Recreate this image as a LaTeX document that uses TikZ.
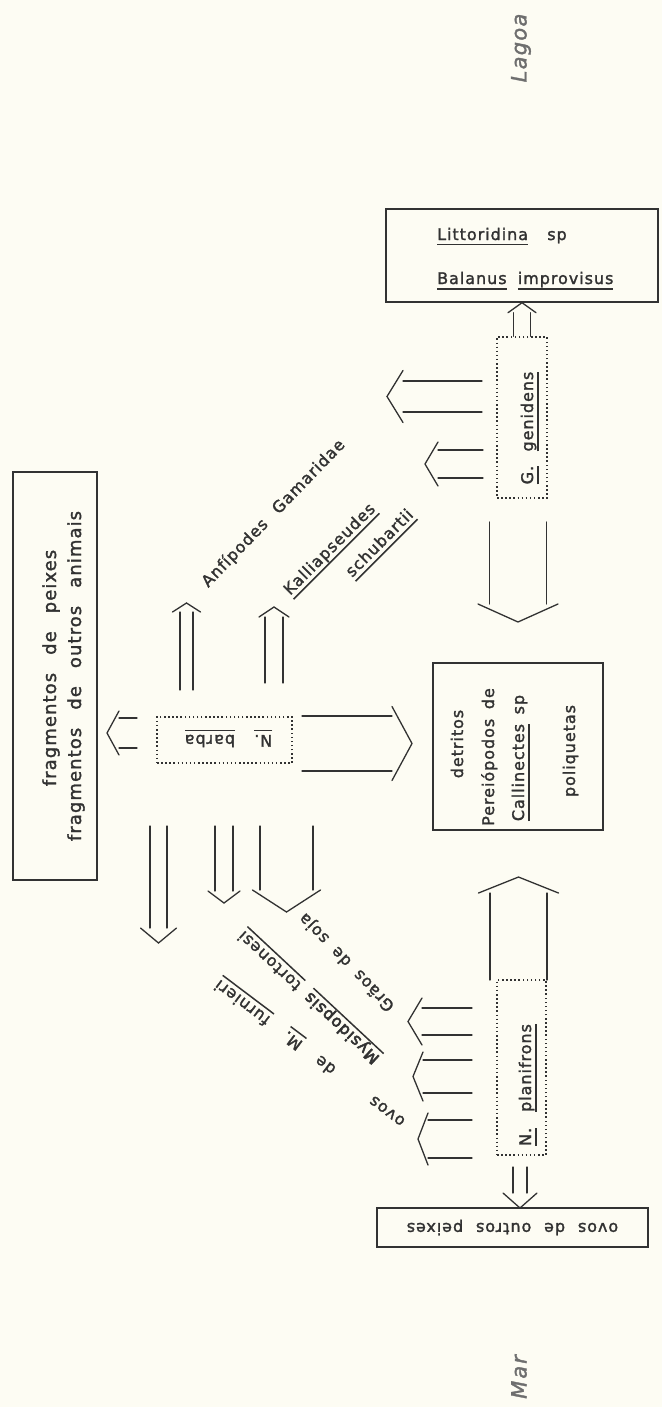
\documentclass[tikz,border=0pt]{standalone}
\usepackage{fontspec}
\usetikzlibrary{calc}
\newfontfamily\lettering{DejaVu Sans}[LetterSpace=6,WordSpace=1.6,FakeBold=1.7]
\newfontfamily\heavylettering{DejaVu Sans}[LetterSpace=6,WordSpace=1.6,FakeBold=3.6]
\definecolor{paper}{RGB}{253,252,243}
\definecolor{ink}{RGB}{50,50,50}
\definecolor{pale}{RGB}{110,110,110}
\newcommand{\sunder}[1]{\setbox0\hbox{#1}\rlap{\rule[-5.5pt]{\wd0}{1.5pt}}\box0}
\tikzset{
	box/.style={draw=ink, line width=1.4pt, inner sep=0pt},
	dotbox/.style={draw=ink, line width=1.4pt, dash pattern=on 1.5pt off 2.6pt, inner sep=0pt},
	txt/.style={font=\lettering\fontsize{16}{19}\selectfont, text=ink, inner sep=0pt},
	region/.style={font=\lettering\itshape\fontsize{21}{25}\selectfont, text=pale, inner sep=0pt},
	arr/.style={draw=ink, line width=1.3pt, line cap=round},
}
% start, tip, half gap, half width of head, length of head
\newcommand{\dblarr}[5]{%
	\coordinate (hb) at ($(#2)!#5!(#1)$);
	\draw[arr] ($(#1)!#3!90:(#2)$) -- ($(hb)!#3!90:(#2)$);
	\draw[arr] ($(#1)!#3!-90:(#2)$) -- ($(hb)!#3!-90:(#2)$);
	\draw[arr] ($(hb)!#4!90:(#2)$) -- (#2) -- ($(hb)!#4!-90:(#2)$);
}

\begin{document}
\begin{tikzpicture}[x=1pt,y=-1pt]
	\fill[paper] (0,0) rectangle (662,1407);
	\useasboundingbox (0,0) rectangle (662,1407);
	\node[region, rotate=90] (lag) at (521,48) {Lagoa};
	\node[region, rotate=90] (mar) at (519,1377) {M\hspace{2pt}a\hspace{2pt}r};

	\node[box, minimum width=272pt, minimum height=93pt] (LB) at (522,255.5) {};
	\node[txt, anchor=base west] (lt) at (437,240) {\sunder{Littoridina}\hspace{1.2em}sp};
	\node[txt, anchor=base west] (bi) at (437,284) {\sunder{Balanus}\hspace{.7em}\sunder{improvisus}};

	\node[dotbox, minimum width=50pt, minimum height=161pt] (GG) at (522,417.5) {};
	\node[txt, rotate=90, anchor=base] (ggt) at (533,428) {\sunder{G.}\hspace{.9em}\sunder{genidens}};
	\dblarr{GG.north}{LB.south}{8.5pt}{14pt}{10pt}
	\coordinate (ga) at (482,396.5);
	\coordinate (gb) at (387,396.5);
	\dblarr{ga}{gb}{15.5pt}{26pt}{16pt}
	\coordinate (gc) at (483,464);
	\coordinate (gd) at (425,464);
	\dblarr{gc}{gd}{14pt}{22pt}{13pt}

	\node[box, minimum width=170pt, minimum height=167pt] (DT) at (518,746.5) {};
	\node[txt, rotate=90, anchor=base] (dt1) at (463,744) {detritos};
	\node[txt, rotate=90, anchor=base] (dt2) at (494,757) {Pereiópodos\hspace{.6em}de};
	\node[txt, rotate=90, anchor=base] (dt3) at (524,758) {\sunder{Callinectes}\hspace{.6em}sp};
	\node[txt, rotate=90, anchor=base] (dt4) at (575,751) {poliquetas};
	\coordinate (ge) at (518,522);
	\coordinate (gf) at (518,622);
	\dblarr{ge}{gf}{28.5pt}{40pt}{18pt}

	\node[box, minimum width=84pt, minimum height=408pt] (FR) at (55,676) {};
	\node[txt, font=\lettering\fontsize{18}{21}\selectfont, rotate=90, anchor=base] (fr1) at (56,668) {fragmentos\hspace{1em}de\hspace{1em}peixes};
	\node[txt, font=\lettering\fontsize{18}{21}\selectfont, rotate=90, anchor=base] (fr2) at (81,676) {fragmentos\hspace{1em}de\hspace{1em}outros\hspace{1em}animais};

	\node[dotbox, minimum width=135pt, minimum height=46pt] (NB) at (224.5,740) {};
	\node[txt, rotate=180, anchor=base] (nbt) at (228.5,735) {\sunder{N.}\hspace{1.2em}\sunder{barba}};
	\coordinate (na) at (137,733);
	\coordinate (nb) at (107,733);
	\dblarr{na}{nb}{15pt}{22pt}{12pt}
	\coordinate (nc) at (186.5,690);
	\coordinate (nd) at (186.5,603);
	\dblarr{nc}{nd}{6.5pt}{14pt}{9pt}
	\coordinate (ne) at (274,683);
	\coordinate (nf) at (274,607);
	\dblarr{ne}{nf}{9pt}{15pt}{10pt}
	\coordinate (ng) at (302,743.5);
	\coordinate (nh) at (412,743.5);
	\dblarr{ng}{nh}{27.5pt}{37pt}{20pt}
	\coordinate (ni) at (158.5,826);
	\coordinate (nj) at (158.5,943);
	\dblarr{ni}{nj}{8.5pt}{18pt}{15pt}
	\coordinate (nk) at (224,826);
	\coordinate (nl) at (224,903);
	\dblarr{nk}{nl}{9pt}{16pt}{12pt}
	\coordinate (nm) at (286.5,826);
	\coordinate (nn) at (286.5,912);
	\dblarr{nm}{nn}{26.5pt}{34pt}{22pt}

	\node[txt, rotate=46] (anf) at (273.5,513.5) {Anfípodes\hspace{.9em}Gamaridae};
	\node[txt, rotate=45, anchor=base west] (kal) at (290,596) {\sunder{Kalliapseudes}};
	\node[txt, rotate=45, anchor=base west] (sch) at (352,578) {\sunder{schubartii}};

	\node[txt, rotate=134] (soj) at (347,962) {Grãos\hspace{.7em}de\hspace{.7em}soja};
	\node[txt, rotate=137] (mys) at (310,996) {\sunder{\heavylettering Mysidopsis}\hspace{.7em}\sunder{tortonesi}};
	\node[txt, rotate=143] (fur) at (311,1052) {ovos\hspace{2.9em}de\hspace{1.3em}\sunder{M.}\hspace{1.3em}\sunder{furnieri}};

	\node[dotbox, minimum width=49pt, minimum height=175pt] (NP) at (521.5,1067.5) {};
	\node[txt, rotate=90, anchor=base] (npt) at (531,1085) {\sunder{N.}\hspace{1em}\sunder{planifrons}};
	\coordinate (pa) at (518.5,980);
	\coordinate (pb) at (518.5,877);
	\dblarr{pa}{pb}{28.5pt}{40pt}{16pt}
	\coordinate (pc) at (472,1021.5);
	\coordinate (pd) at (408,1021.5);
	\dblarr{pc}{pd}{13.5pt}{23.5pt}{14pt}
	\coordinate (pe) at (472,1076.5);
	\coordinate (pf) at (413,1076.5);
	\dblarr{pe}{pf}{16.5pt}{24.5pt}{10pt}
	\coordinate (pg) at (472,1139);
	\coordinate (ph) at (418,1139);
	\dblarr{pg}{ph}{19pt}{26pt}{10pt}

	\node[box, minimum width=271pt, minimum height=39pt] (OV) at (512.5,1227.5) {};
	\node[txt, rotate=180] (ovt) at (512.5,1227.5) {ovos\hspace{.8em}de\hspace{.8em}outros\hspace{.8em}peixes};
	\coordinate (pi) at (520,1167);
	\coordinate (pj) at (520,1208);
	\dblarr{pi}{pj}{7pt}{17pt}{15pt}
\end{tikzpicture}
\end{document}
